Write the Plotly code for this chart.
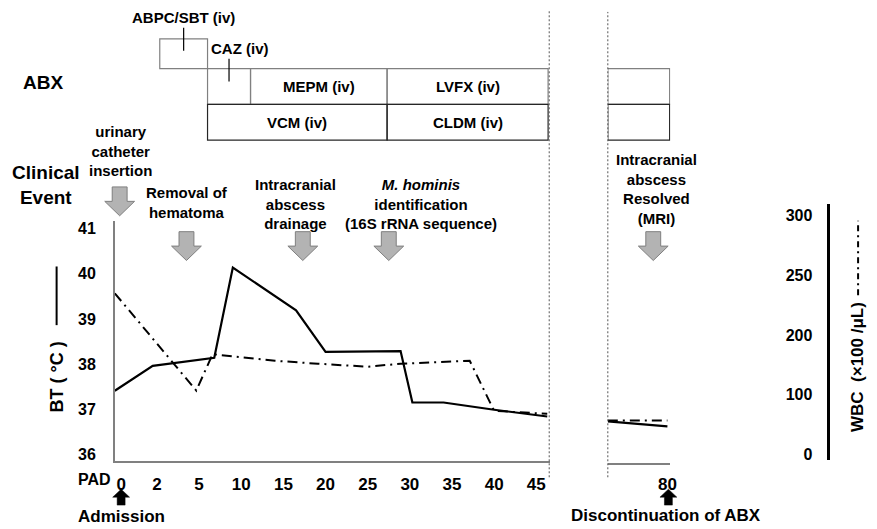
import numpy as np
import plotly.graph_objects as go

W, H = 877, 529
FONT = "Liberation Sans, Arial, sans-serif"

# ---------------- data ----------------
tick_days = [0, 2, 5, 10, 15, 20, 25, 30, 35, 40, 45]
tick_labels = ["0", "2", "5", "10", "15", "20", "25", "30", "35", "40", "45"]

bt_days = [0, 1.8, 6.8, 9, 16.5, 20, 28.9, 30.3, 34, 40, 46.3]
bt_vals = [37.41, 37.96, 38.14, 40.14, 39.19, 38.27, 38.29, 37.15, 37.15, 36.99, 36.84]

wbc_days = [0, 4.8, 6.6, 14, 19.1, 25, 28.9, 37.1, 40, 46.3]
wbc_vals = [235, 107, 168, 157, 152, 147, 152, 157, 73, 68]

late_days = [72, 80]
late_bt = [36.73, 36.62]
late_wbc = [57, 57]

bt_ticks = [36, 37, 38, 39, 40, 41]
wbc_ticks = [0, 100, 200, 250, 300]

abx_names = ["ABPC/SBT (iv)", "CAZ (iv)", "MEPM (iv)", "LVFX (iv)", "VCM (iv)", "CLDM (iv)"]
abx_start = [2.2, 6.0, 11.1, 27.3, 6.0, 27.3]
abx_end = [6.0, 11.1, 27.3, 46.4, 27.3, 46.4]
abx_row = [0, 1, 1, 1, 2, 2]

late_abx_start = [72, 72]
late_abx_end = [80.3, 80.3]
late_abx_row = [1, 2]

event_labels = ["urinary<br>catheter<br>insertion", "Removal of<br>hematoma",
                "Intracranial<br>abscess<br>drainage",
                "<i>M. hominis</i><br>identification<br>(16S rRNA sequence)"]
event_days = [0.23, 4.1, 17.3, 27.5]
late_event_label = "Intracranial<br>abscess<br>Resolved<br>(MRI)"
late_event_day = 78.1

# ---------------- scales ----------------
day_key = tick_days + [50]
idx_key = list(range(len(day_key)))


def to_idx(d):
    return np.interp(d, day_key, idx_key)


def wbc_pos(v):
    return np.interp(v, wbc_ticks, list(range(len(wbc_ticks))))


XPX = (115.6, 554.0)
XR = (0.0, 10.33)
X2PX = (612.0, 675.0)
X2R = (72.0, 80.4)


def px_main(day):
    return XPX[0] + (to_idx(day) - XR[0]) / (XR[1] - XR[0]) * (XPX[1] - XPX[0])


def px_late(day):
    return X2PX[0] + (day - X2R[0]) / (X2R[1] - X2R[0]) * (X2PX[1] - X2PX[0])


def P(x, y):
    return f"{x / W:.5f},{1 - y / H:.5f}"


def fy(y):
    return 1 - y / H


fig = go.Figure()

dashdot = "10px,5px,2px,5px"

fig.add_trace(go.Scatter(x=to_idx(bt_days), y=bt_vals, mode="lines",
                         line=dict(color="black", width=2.2), xaxis="x", yaxis="y",
                         showlegend=False))
fig.add_trace(go.Scatter(x=to_idx(wbc_days), y=wbc_pos(wbc_vals), mode="lines",
                         line=dict(color="black", width=2, dash=dashdot), xaxis="x", yaxis="y2",
                         showlegend=False))
fig.add_trace(go.Scatter(x=late_days, y=late_bt, mode="lines",
                         line=dict(color="black", width=2.2), xaxis="x2", yaxis="y",
                         showlegend=False))
fig.add_trace(go.Scatter(x=late_days, y=wbc_pos(late_wbc), mode="lines",
                         line=dict(color="black", width=2, dash=dashdot), xaxis="x2", yaxis="y2",
                         showlegend=False))

shapes = []
annotations = []


def ann(text, x, y, size, xref="paper", **kw):
    d = dict(text=text, x=x, y=y, xref=xref, yref="paper", showarrow=False,
             font=dict(family=FONT, size=size, color="black", weight="bold"),
             xanchor="center", yanchor="middle")
    d.update(kw)
    annotations.append(d)


# ABX boxes
row_band = {0: (39, 69), 1: (69, 105), 2: (105, 141)}
for rows_pass in ([0, 1], [2]):
    for name, s, e, r in zip(abx_names, abx_start, abx_end, abx_row):
        if r not in rows_pass:
            continue
        top, bot = row_band[r]
        col = "#808080" if r < 2 else "#262626"
        shapes.append(dict(type="rect", xref="x", yref="paper", x0=float(to_idx(s)), x1=float(to_idx(e)),
                           y0=fy(bot), y1=fy(top), line=dict(color=col, width=1.2),
                           fillcolor="rgba(0,0,0,0)"))
    for s, e, r in zip(late_abx_start, late_abx_end, late_abx_row):
        if r not in rows_pass:
            continue
        top, bot = row_band[r]
        col = "#808080" if r < 2 else "#262626"
        shapes.append(dict(type="rect", xref="x2", yref="paper", x0=s, x1=e,
                           y0=fy(bot), y1=fy(top), line=dict(color=col, width=1.2),
                           fillcolor="rgba(0,0,0,0)"))

for name, s, e, r in zip(abx_names, abx_start, abx_end, abx_row):
    mid = float((to_idx(s) + to_idx(e)) / 2)
    top, bot = row_band[r]
    if r == 0:
        ann(name, mid, fy(18), 15, xref="x")
        shapes.append(dict(type="line", xref="x", yref="paper", x0=mid, x1=mid,
                           y0=fy(51), y1=fy(28), line=dict(color="black", width=1.2)))
    elif name.startswith("CAZ"):
        ann(name, float(to_idx(s)), fy(49), 15, xref="x", xanchor="left", xshift=1)
        shapes.append(dict(type="line", xref="x", yref="paper", x0=mid, x1=mid,
                           y0=fy(82), y1=fy(59), line=dict(color="black", width=1.2)))
    else:
        ann(name, mid, fy((top + bot) / 2), 15, xref="x")

# separators (axis break)
for xp, ytop in ((553, 10), (612, 12)):
    shapes.append(dict(type="line", xref="paper", yref="paper", x0=xp / W, x1=xp / W,
                       y0=fy(480), y1=fy(ytop), line=dict(color="#555555", width=1, dash="2px,2px")))


# gray event arrows
def down_arrow(cx, top, tip):
    mid = (top + tip) / 2
    return ("M" + P(cx - 7.5, top) + " L" + P(cx + 7.5, top) + " L" + P(cx + 7.5, mid) +
            " L" + P(cx + 15, mid) + " L" + P(cx, tip) + " L" + P(cx - 15, mid) +
            " L" + P(cx - 7.5, mid) + " Z")


def up_arrow(cx, tip, bottom):
    mid = tip + 8
    return ("M" + P(cx, tip) + " L" + P(cx + 8.5, mid) + " L" + P(cx + 4, mid) +
            " L" + P(cx + 4, bottom) + " L" + P(cx - 4, bottom) + " L" + P(cx - 4, mid) +
            " L" + P(cx - 8.5, mid) + " Z")


arrow_tops = [188, 233, 233, 233]
text_pos = [(121, 152), (188, 204), (298, 205), (424, 205)]
for lab, d, top, (tx, ty) in zip(event_labels, event_days, arrow_tops, text_pos):
    cx = float(px_main(d))
    shapes.append(dict(type="path", xref="paper", yref="paper", path=down_arrow(cx, top, top + 29),
                       fillcolor="#b3b3b3", line=dict(color="#7f7f7f", width=1)))
    ann(lab, tx / W, fy(ty), 15)

cx = float(px_late(late_event_day))
shapes.append(dict(type="path", xref="paper", yref="paper", path=down_arrow(cx, 233, 262),
                   fillcolor="#b3b3b3", line=dict(color="#7f7f7f", width=1)))
ann(late_event_label, 661 / W, fy(190), 15)

# black arrows: admission / discontinuation
adm_x = XPX[0] + (to_idx(tick_days[0]) + 0.15) / (XR[1] - XR[0]) * (XPX[1] - XPX[0])
shapes.append(dict(type="path", xref="paper", yref="paper", path=up_arrow(float(adm_x), 492, 508),
                   fillcolor="black", line=dict(color="black", width=0.5)))
dis_x = float(px_late(late_days[-1]))
shapes.append(dict(type="path", xref="paper", yref="paper", path=up_arrow(dis_x + 1, 492, 508),
                   fillcolor="black", line=dict(color="black", width=0.5)))

ann("Admission", 122 / W, fy(519), 17)
ann("Discontinuation of ABX", 671 / W, fy(518), 17)
ann("PAD", 95 / W, fy(482), 16)
ann("ABX", 43 / W, fy(83), 19)
ann("Clinical<br>Event", 46 / W, fy(186), 19)

# axis titles with legend line samples
ann("BT ( °C )", 57 / W, fy(379), 18, textangle=-90)
shapes.append(dict(type="line", xref="paper", yref="paper", x0=57 / W, x1=57 / W,
                   y0=fy(327), y1=fy(268), line=dict(color="black", width=2)))
ann("WBC  (×100 /μL)", 864 / W, fy(369), 17, textangle=-90)
shapes.append(dict(type="line", xref="paper", yref="paper", x0=864 / W, x1=864 / W,
                   y0=fy(297), y1=fy(222), line=dict(color="black", width=2, dash="6px,4px,2px,4px")))

tickvals_main = [float(v) for v in to_idx(tick_days)]
tickvals_main[0] += 0.15

fig.update_layout(
    width=W, height=H, autosize=False,
    margin=dict(l=0, r=0, t=0, b=0),
    paper_bgcolor="white", plot_bgcolor="rgba(0,0,0,0)",
    font=dict(family=FONT, color="black"),
    showlegend=False,
    xaxis=dict(domain=[XPX[0] / W, XPX[1] / W], range=list(XR), anchor="y",
               tickvals=tickvals_main, ticktext=tick_labels, ticks="",
               showline=True, linecolor="#808080", linewidth=1.5,
               showgrid=False, zeroline=False,
               tickfont=dict(family=FONT, size=17, color="black", weight="bold"),
               ticklabelstandoff=6),
    yaxis=dict(domain=[fy(464), fy(222)], range=[35.846, 41.176], anchor="x",
               tickvals=bt_ticks, ticks="", showline=True, linecolor="#808080", linewidth=1.5,
               showgrid=False, zeroline=False,
               tickfont=dict(family=FONT, size=16, color="black", weight="bold"),
               ticklabelstandoff=14),
    xaxis2=dict(domain=[X2PX[0] / W, X2PX[1] / W], range=list(X2R), anchor="free",
                position=fy(467), tickvals=[late_days[-1]], ticktext=["80"], ticks="",
                showline=True, linecolor="#808080", linewidth=1.5,
                showgrid=False, zeroline=False,
                tickfont=dict(family=FONT, size=17, color="black", weight="bold"),
                ticklabelstandoff=4),
    yaxis2=dict(domain=[fy(463), fy(205)], range=[-0.1, 4.2], anchor="free",
                position=834 / W, side="left",
                tickvals=[float(v) for v in wbc_pos(wbc_ticks)], ticktext=[str(t) for t in wbc_ticks],
                ticks="", showline=True, linecolor="black", linewidth=2.5,
                showgrid=False, zeroline=False,
                tickfont=dict(family=FONT, size=16, color="black", weight="bold"),
                ticklabelstandoff=12),
    shapes=shapes,
    annotations=annotations,
)

fig.write_html(
    "out.html",
    config={"displayModeBar": False},
    post_script=("document.documentElement.style.margin='0';"
                 "document.body.style.margin='0';"
                 "document.body.style.overflow='hidden';"),
)
